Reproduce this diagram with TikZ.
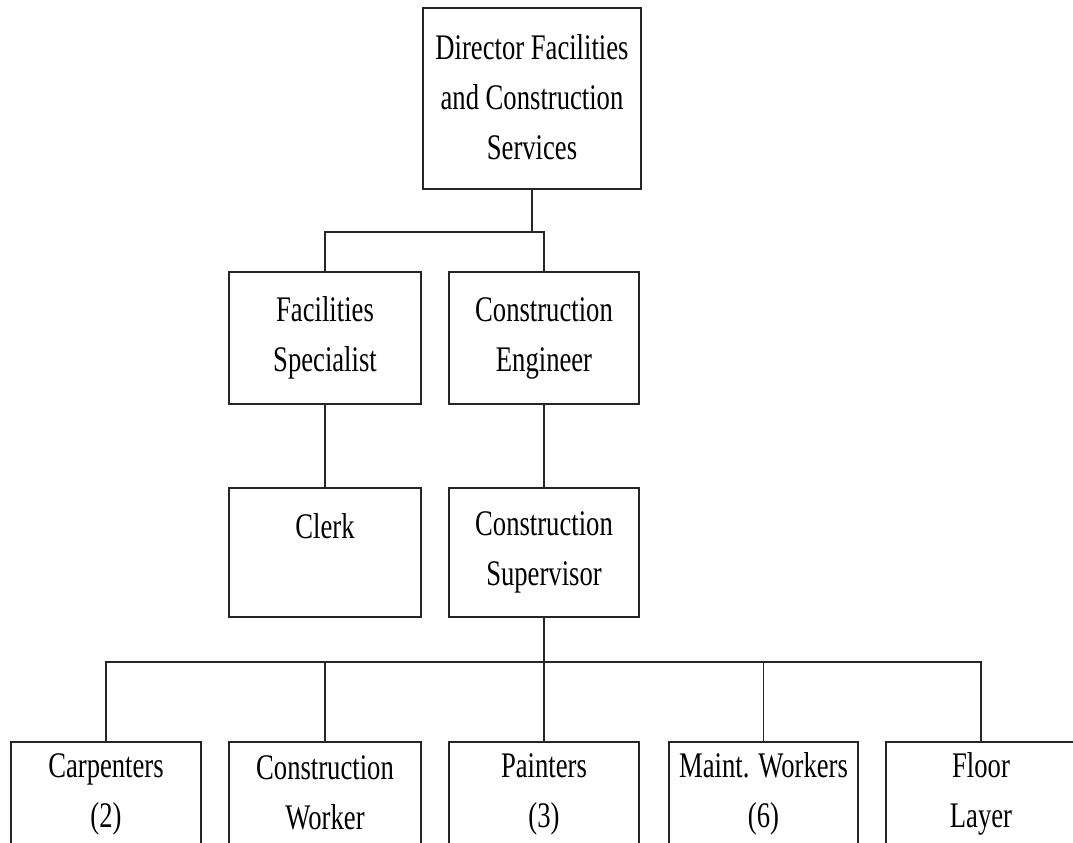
\documentclass[tikz,border=0pt]{standalone}
\usepackage{fontspec}
\setmainfont{Liberation Serif}[FakeStretch=0.74]
\begin{document}
\begin{tikzpicture}[x=0.75pt,y=-0.75pt,
  orgbox/.style={draw=black!85, line width=1.3pt, rectangle, align=center,
    inner sep=0pt, font=\fontsize{27}{37.5}\selectfont,
    execute at begin node={\rule{0pt}{35.5pt}},
    execute at end node={\rule[-2pt]{0pt}{2pt}}},
  link/.style={draw=black!85, line width=1.3pt}]
\useasboundingbox (0,0) rectangle (1073,842);
\fill[white] (0,0) rectangle (1073,842);

% top level
\node[orgbox, minimum width=218*0.75pt, minimum height=181*0.75pt] (dir) at (532,98.5)
  {Director Facilities\\and Construction\\Services};

% second level
\node[orgbox, minimum width=192*0.75pt, minimum height=132*0.75pt] (fs) at (325,338)
  {Facilities\\Specialist};
\node[orgbox, minimum width=190*0.75pt, minimum height=132*0.75pt] (ce) at (544,338)
  {Construction\\Engineer};

% third level
\node[orgbox, minimum width=192*0.75pt, minimum height=129*0.75pt] (clerk) at (325,552.5)
  {Clerk\\\mbox{}};
\node[orgbox, minimum width=190*0.75pt, minimum height=129*0.75pt] (cs) at (544,552.5)
  {Construction\\Supervisor};

% crew level
\node[orgbox, minimum width=190*0.75pt, minimum height=104*0.75pt] (carp) at (106,794)
  {Carpenters\\(2)};
\node[orgbox, minimum width=192*0.75pt, minimum height=104*0.75pt] (cw) at (325,794)
  {Construction\\Worker};
\node[orgbox, minimum width=190*0.75pt, minimum height=104*0.75pt] (paint) at (544,794)
  {Painters\\(3)};
\node[orgbox, minimum width=189*0.75pt, minimum height=104*0.75pt] (mw) at (763.5,794)
  {Maint. Workers\\(6)};
\node[orgbox, minimum width=190*0.75pt, minimum height=104*0.75pt] (floor) at (981,794)
  {Floor\\Layer};

% connectors
\coordinate (bus1) at (532,232);
\coordinate (bus2) at (544,662);
\draw[link] (dir.south) -- (bus1);
\draw[link] (fs.north) |- (bus1) -| (ce.north);
\draw[link] (fs.south) -- (clerk.north);
\draw[link] (ce.south) -- (cs.north);
\draw[link] (cs.south) -- (paint.north);
\draw[link] (carp.north) |- (bus2) -| (floor.north);
\draw[link] (cw.north) -- (cw.north |- bus2);
\draw[link] (mw.north) -- (mw.north |- bus2);
\end{tikzpicture}
\end{document}
